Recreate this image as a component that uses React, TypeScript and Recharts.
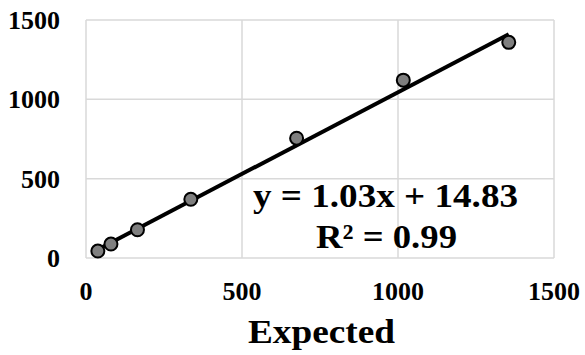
import React from 'react';
import { ComposedChart, Scatter, XAxis, YAxis, CartesianGrid, ReferenceLine, Customized } from 'recharts';

const expected = [38, 80, 165, 336, 675, 1017, 1355];
const observed = [44, 88, 178, 370, 755, 1121, 1359];
const xTicks = [0, 500, 1000, 1500];
const yTicks = [0, 500, 1000, 1500];
const slope = 1.03;
const intercept = 14.83;
const equationText = 'y = 1.03x + 14.83';
const r2Text = 'R² = 0.99';
const xTitle = 'Expected';

const points = expected.map((x, i) => ({ x, y: observed[i] }));
const xMin = Math.min(...expected);
const xMax = Math.max(...expected);
const trend = [
  { x: xMin, y: slope * xMin + intercept },
  { x: xMax, y: slope * xMax + intercept },
];

const FONT = '"Liberation Serif", "Times New Roman", serif';

const XTick = (props: any) => {
  const { x, y, payload } = props;
  return (
    <text x={x} y={y + 40} textAnchor="middle" fontFamily={FONT} fontWeight="bold" fontSize={26} fill="#000">
      {payload.value}
    </text>
  );
};

const YTick = (props: any) => {
  const { x, y, payload } = props;
  return (
    <text x={x - 24} y={y + 9} textAnchor="end" fontFamily={FONT} fontWeight="bold" fontSize={26} fill="#000">
      {payload.value}
    </text>
  );
};

const Dot = (props: any) => {
  const { cx, cy } = props;
  return <circle cx={cx} cy={cy} r={6.5} fill="#7f7f7f" stroke="#000" strokeWidth={2} />;
};

const Texts = () => (
  <g>
    <text x={253} y={207} textLength={265} lengthAdjust="spacingAndGlyphs" fontFamily={FONT} fontWeight="bold" fontSize={33} fill="#000">
      {equationText}
    </text>
    <text x={316} y={248} textLength={141} lengthAdjust="spacingAndGlyphs" fontFamily={FONT} fontWeight="bold" fontSize={33} fill="#000">
      {r2Text}
    </text>
    <text x={248} y={343} textLength={147} lengthAdjust="spacingAndGlyphs" fontFamily={FONT} fontWeight="bold" fontSize={34} fill="#000">
      {xTitle}
    </text>
  </g>
);

export default function App() {
  return (
    <div style={{ position: 'absolute', left: 0, top: 0, background: '#fff' }}>
      <ComposedChart width={585} height={355} margin={{ top: 20, right: 31, bottom: 0, left: 16 }}>
        <CartesianGrid stroke="#d9d9d9" strokeWidth={1.5} />
        <XAxis
          type="number"
          dataKey="x"
          domain={[0, 1500]}
          ticks={xTicks}
          axisLine={false}
          tickLine={false}
          tickSize={0}
          tick={<XTick />}
          height={97}
          interval={0}
        />
        <YAxis
          type="number"
          dataKey="y"
          domain={[0, 1500]}
          ticks={yTicks}
          axisLine={false}
          tickLine={false}
          tickSize={0}
          tick={<YTick />}
          width={70}
          interval={0}
        />
        <ReferenceLine
          segment={trend}
          stroke="#000"
          strokeWidth={4}
          ifOverflow="visible"
        />
        <Scatter data={points} dataKey="y" shape={<Dot />} isAnimationActive={false} />
        <Customized component={Texts} />
      </ComposedChart>
    </div>
  );
}
